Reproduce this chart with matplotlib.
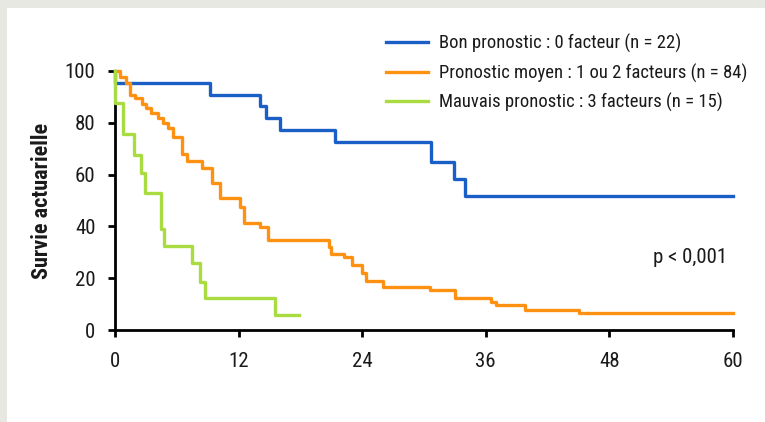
import matplotlib.pyplot as plt
from matplotlib import font_manager
from matplotlib.patches import Rectangle

# police étroite si disponible
noms = {f.name for f in font_manager.fontManager.ttflist}
etroites = [f for f in font_manager.fontManager.ttflist
            if 'Narrow' in f.name or 'Condensed' in f.name or f.stretch in ('condensed', 'semi-condensed')]
police = 'DejaVu Sans'
for n in ['Liberation Sans Narrow', 'Roboto Condensed', 'Open Sans Condensed', 'DejaVu Sans Condensed']:
    if n in noms:
        police = n
        break
else:
    if any(f.name == 'DejaVu Sans' and f.stretch != 'normal' for f in etroites):
        plt.rcParams['font.stretch'] = 'condensed'
plt.rcParams['font.family'] = [police, 'DejaVu Sans']

# courbes de survie actuarielle (mois, %)
bon_t = [0, 0, 9.2, 14.1, 14.7, 16.0, 21.4, 30.7, 32.9, 34.0, 60]
bon_v = [100, 95.5, 90.9, 86.4, 81.8, 77.3, 72.4, 65.0, 58.3, 51.6, 51.6]

moy_t = [0, 0.5, 1.1, 1.5, 1.9, 2.6, 3.0, 3.5, 4.2, 4.7, 5.1, 5.6, 6.5, 7.0, 8.4,
         9.4, 10.2, 12.1, 12.5, 14.1, 14.9, 20.8, 21.0, 22.2, 23.0, 24.0, 24.4,
         26.0, 30.6, 33.0, 36.5, 37.0, 39.8, 45.0, 60]
moy_v = [100, 97.5, 95.2, 90.7, 89.4, 87.1, 85.6, 83.7, 81.7, 79.8, 77.9, 74.6,
         68.1, 65.2, 62.5, 56.6, 50.8, 47.6, 41.2, 39.9, 34.6, 32.2, 29.4, 28.0,
         25.1, 21.9, 18.8, 16.6, 15.3, 12.2, 10.9, 9.5, 7.7, 6.4, 6.4]

mau_t = [0, 0, 0.8, 1.8, 2.5, 2.9, 4.5, 4.8, 7.5, 8.3, 8.7, 15.5, 17.9]
mau_v = [100, 87.5, 75.5, 67.5, 60.5, 53.0, 39.0, 32.3, 25.7, 18.6, 12.2, 5.8, 5.8]

labels = ["Bon pronostic : 0 facteur (n = 22)",
          "Pronostic moyen : 1 ou 2 facteurs (n = 84)",
          "Mauvais pronostic : 3 facteurs (n = 15)"]
couleurs = ['#1a5fc6', '#ff9112', '#a8dc40']

fig = plt.figure(figsize=(7.65, 4.22), dpi=100, facecolor='#e8e8e3')
fig.patches.append(Rectangle((7 / 765, 0), 1, 1 - 8 / 422, transform=fig.transFigure,
                             facecolor='white', edgecolor='none', zorder=-1))
ax = fig.add_axes([115 / 765, 1 - 330 / 422, 618 / 765, 259 / 422])
ax.set_facecolor('none')

for t, v, lab, c in zip([bon_t, moy_t, mau_t], [bon_v, moy_v, mau_v], labels, couleurs):
    ax.step(t, v, where='post', color=c, lw=2.4, label=lab, clip_on=False, zorder=3)

ax.set_xlim(0, 60)
ax.set_ylim(0, 100)
ax.set_xticks([0, 12, 24, 36, 48, 60])
ax.set_yticks([0, 20, 40, 60, 80, 100])
ax.tick_params(labelsize=15, width=2, length=5, pad=9, direction='out', labelcolor='#1a1a1a')
ax.tick_params(axis='x', pad=11)
for s in ['top', 'right']:
    ax.spines[s].set_visible(False)
for s in ['left', 'bottom']:
    ax.spines[s].set_linewidth(2)

ax.set_ylabel("Survie actuarielle", fontsize=16, fontweight='bold', color='#1a1a1a')
ax.yaxis.set_label_coords(-0.100, 0.5)

ax.text(59.4, 28, "p < 0,001", fontsize=15, ha='right', va='center', color='#1a1a1a')

leg = fig.legend(loc='upper left', bbox_to_anchor=(386 / 765, 1 - 34 / 422), frameon=False,
                 fontsize=13.4, handlelength=2.25, handletextpad=0.62, labelspacing=0.55,
                 borderpad=0, borderaxespad=0)
for txt in leg.get_texts():
    txt.set_color('#1a1a1a')

fig.savefig('out.png', dpi=100, facecolor=fig.get_facecolor())
